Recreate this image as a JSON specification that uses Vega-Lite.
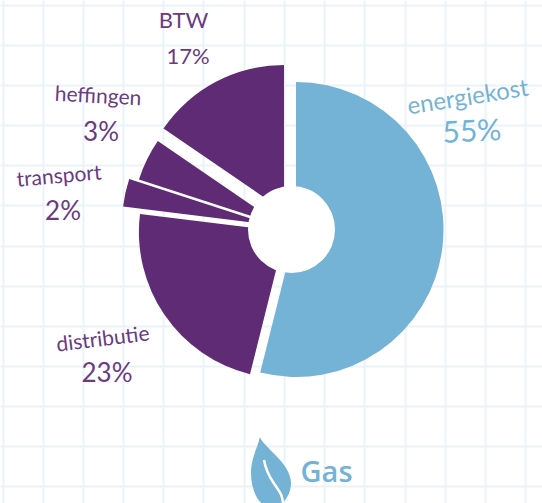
{"$schema":"https://vega.github.io/schema/vega-lite/v6.json","width":542,"height":503,"autosize":{"type":"none"},"padding":0,"background":"white","view":{"stroke":null},
"config":{"text":{"font":"Lato","fontWeight":400}},
"data":{"values":[{"slice":"energiekost","pct":"55%","share":53.9},{"slice":"distributie","pct":"23%","share":23.05},{"slice":"transport","pct":"2%","share":3.05},{"slice":"heffingen","pct":"3%","share":4.55},{"slice":"BTW","pct":"17%","share":15.45}]},
"transform":[{"stack":"share","groupby":[],"as":["t0","t1"]}],
"layer":[
{"data":{"values":[{"gx":0,"gy":0}]},"mark":{"type":"point","opacity":0},"encoding":{
"x":{"field":"gx","type":"quantitative","scale":{"domain":[0,542],"nice":false},"axis":{"values":[2.5,43,83,123,163,203,244,284,324,364,404.5,445,485,525],"grid":true,"gridColor":"#eaf3fa","gridWidth":2,"labels":false,"ticks":false,"domain":false,"title":null}},
"y":{"field":"gy","type":"quantitative","scale":{"domain":[503,0],"nice":false},"axis":{"values":[5,45,85,125,165,205,246,286,326,366,406,446,486],"grid":true,"gridColor":"#eaf3fa","gridWidth":2,"labels":false,"ticks":false,"domain":false,"title":null}}}},
{"transform":[{"filter":"datum.slice==='energiekost'"}],"mark":{"type":"arc","radius":147.5,"xOffset":25,"yOffset":-22,"color":"#74b3d6"},"encoding":{"theta":{"field":"t0","type":"quantitative","stack":null,"scale":{"domain":[0,100],"range":[0,6.28319]}},"theta2":{"field":"t1"}}},
{"transform":[{"filter":"datum.slice==='distributie'"}],"mark":{"type":"arc","radius":146.7,"xOffset":14.6,"yOffset":-19.5,"color":"#5f2b74"},"encoding":{"theta":{"field":"t0","type":"quantitative","stack":null,"scale":{"domain":[0,100],"range":[0,6.28319]}},"theta2":{"field":"t1"}}},
{"transform":[{"filter":"datum.slice==='transport'"}],"mark":{"type":"arc","radius":147,"xOffset":-2,"yOffset":-27,"color":"#5f2b74"},"encoding":{"theta":{"field":"t0","type":"quantitative","stack":null,"scale":{"domain":[0,100],"range":[0,6.28319]}},"theta2":{"field":"t1"}}},
{"transform":[{"filter":"datum.slice==='heffingen'"}],"mark":{"type":"arc","radius":150,"xOffset":10.6,"yOffset":-25.7,"color":"#5f2b74"},"encoding":{"theta":{"field":"t0","type":"quantitative","stack":null,"scale":{"domain":[0,100],"range":[0,6.28319]}},"theta2":{"field":"t1"}}},
{"transform":[{"filter":"datum.slice==='BTW'"}],"mark":{"type":"arc","radius":146,"xOffset":13,"yOffset":-40.5,"color":"#5f2b74"},"encoding":{"theta":{"field":"t0","type":"quantitative","stack":null,"scale":{"domain":[0,100],"range":[0,6.28319]}},"theta2":{"field":"t1"}}},
{"data":{"values":[{"hub":1}]},"mark":{"type":"arc","radius":43.5,"theta":0,"theta2":6.28319,"xOffset":20.5,"yOffset":-22,"color":"white"},"encoding":{}},
{"transform":[{"filter":"datum.slice==='energiekost'"}],"mark":{"type":"text","fontSize":24,"angle":351,"xOffset":197,"yOffset":-153.5,"color":"#74b3d6"},"encoding":{"text":{"field":"slice"}}},
{"transform":[{"filter":"datum.slice==='energiekost'"}],"mark":{"type":"text","fontSize":30,"angle":357,"xOffset":201,"yOffset":-119,"color":"#74b3d6"},"encoding":{"text":{"field":"pct"}}},
{"transform":[{"filter":"datum.slice==='distributie'"}],"mark":{"type":"text","fontSize":21,"angle":353,"xOffset":-168,"yOffset":88.5,"color":"#6b3a80"},"encoding":{"text":{"field":"slice"}}},
{"transform":[{"filter":"datum.slice==='distributie'"}],"mark":{"type":"text","fontSize":26,"xOffset":-164,"yOffset":122,"color":"#6b3a80"},"encoding":{"text":{"field":"pct"}}},
{"transform":[{"filter":"datum.slice==='transport'"}],"mark":{"type":"text","fontSize":21,"angle":355,"xOffset":-212,"yOffset":-74.5,"color":"#6b3a80"},"encoding":{"text":{"field":"slice"}}},
{"transform":[{"filter":"datum.slice==='transport'"}],"mark":{"type":"text","fontSize":26,"xOffset":-208,"yOffset":-40,"color":"#6b3a80"},"encoding":{"text":{"field":"pct"}}},
{"transform":[{"filter":"datum.slice==='heffingen'"}],"mark":{"type":"text","fontSize":21,"angle":3,"xOffset":-173,"yOffset":-154.5,"color":"#6b3a80"},"encoding":{"text":{"field":"slice"}}},
{"transform":[{"filter":"datum.slice==='heffingen'"}],"mark":{"type":"text","fontSize":26,"xOffset":-170,"yOffset":-119,"color":"#6b3a80"},"encoding":{"text":{"field":"pct"}}},
{"transform":[{"filter":"datum.slice==='BTW'"}],"mark":{"type":"text","fontSize":22,"xOffset":-87.5,"yOffset":-230.5,"color":"#6b3a80"},"encoding":{"text":{"field":"slice"}}},
{"transform":[{"filter":"datum.slice==='BTW'"}],"mark":{"type":"text","fontSize":22,"xOffset":-83,"yOffset":-194.5,"color":"#6b3a80"},"encoding":{"text":{"field":"pct"}}},
{"data":{"values":[{"icon":"Gas"}]},"mark":{"type":"point","filled":true,"opacity":1,"size":6400,"xOffset":0,"yOffset":223.5,"color":"#74b3d6","shape":"M-.275 -.95 C -.2 -.7 .5 -.3 .5 .2 C .5 .5 .3 .8 0 .8 C -.3 .8 -.5 .4 -.5 -.05 C -.5 -.4 -.35 -.65 -.275 -.95Z"},"encoding":{}},
{"data":{"values":[{"icon":"Gas"}]},"mark":{"type":"point","filled":false,"opacity":1,"size":6400,"strokeWidth":2.5,"xOffset":0,"yOffset":223.5,"color":"white","shape":"M-.175 -.375 C -.12 -.05 .0 .1 .1 .25 C .2 .4 .3 .5 .3 .75"},"encoding":{}},
{"data":{"values":[{"icon":"Gas"}]},"mark":{"type":"text","font":"Open Sans","fontWeight":600,"fontSize":29,"xOffset":55.5,"yOffset":221,"color":"#74b3d6"},"encoding":{"text":{"field":"icon"}}}
]}
